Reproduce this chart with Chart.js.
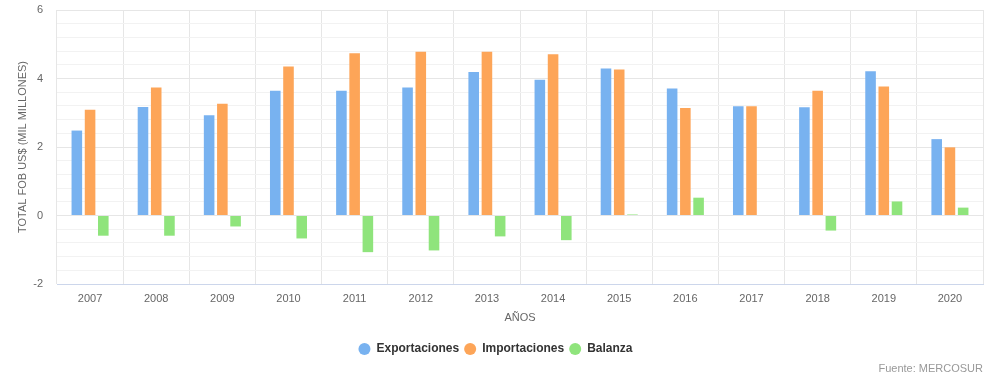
<!DOCTYPE html>
<html>
<head>
<meta charset="utf-8">
<script src="https://cdn.jsdelivr.net/npm/chart.js@4/dist/chart.umd.min.js"></script>
<style>
html,body{margin:0;padding:0;background:#fff;}
#wrap{width:992px;height:376px;position:relative;}
</style>
</head>
<body>
<div id="wrap"><canvas id="c" width="992" height="376"></canvas></div>
<script>
const years = ['2007','2008','2009','2010','2011','2012','2013','2014','2015','2016','2017','2018','2019','2020'];
const exportaciones = [2.48, 3.17, 2.93, 3.64, 3.64, 3.74, 4.19, 3.96, 4.29, 3.71, 3.19, 3.16, 4.21, 2.23];
const importaciones = [3.09, 3.74, 3.26, 4.35, 4.74, 4.78, 4.78, 4.71, 4.26, 3.14, 3.19, 3.64, 3.77, 1.99];
const balanza = [-0.59, -0.59, -0.32, -0.67, -1.07, -1.02, -0.61, -0.72, 0.03, 0.52, 0.0, -0.44, 0.41, 0.23];
const yMin = -2, yMax = 6, yMajorStep = 2, yMinorStep = 0.4;
const seriesNames = ['Exportaciones', 'Importaciones', 'Balanza'];
const seriesColors = ['#78b2f0', '#fda558', '#8fe47c'];

const FONT = "'Liberation Sans', Arial, Helvetica, sans-serif";
function isMajor(v){ const r = v / yMajorStep; return Math.abs(r - Math.round(r)) < 1e-6; }

new Chart(document.getElementById('c'), {
  type: 'bar',
  data: {
    labels: years,
    datasets: [
      { label: seriesNames[0], data: exportaciones, backgroundColor: seriesColors[0] },
      { label: seriesNames[1], data: importaciones, backgroundColor: seriesColors[1] },
      { label: seriesNames[2], data: balanza, backgroundColor: seriesColors[2] }
    ]
  },
  options: {
    responsive: false,
    animation: false,
    devicePixelRatio: 1,
    layout: { padding: { top: 10, right: 9, left: 8, bottom: 0 } },
    datasets: { bar: { categoryPercentage: 0.6, barPercentage: 0.8, borderWidth: 0 } },
    scales: {
      x: {
        grid: { offset: true, color: '#e6e6e6', drawTicks: false },
        border: { color: '#ccd6eb', width: 1 },
        ticks: { color: '#666666', font: { family: FONT, size: 11 }, padding: 8 },
        title: { display: true, text: 'AÑOS', color: '#666666', font: { family: FONT, size: 11 }, padding: { top: 0, bottom: 13 } },
        afterFit: (scale) => { scale.height = 54; }
      },
      y: {
        min: yMin, max: yMax,
        afterBuildTicks: (scale) => {
          const t = [];
          for (let k = 0; k <= Math.round((yMax - yMin) / yMinorStep); k++) {
            t.push({ value: +(yMin + k * yMinorStep).toFixed(6) });
          }
          scale.ticks = t;
        },
        ticks: {
          autoSkip: false,
          color: '#666666',
          font: { family: FONT, size: 11 },
          padding: 0,
          callback: (v) => isMajor(v) ? String(Math.round(v)) : ''
        },
        grid: {
          drawTicks: true,
          tickLength: 14,
          tickColor: 'rgba(0,0,0,0)',
          color: (ctx) => (ctx.tick && isMajor(ctx.tick.value)) ? '#e6e6e6' : '#f2f2f2'
        },
        border: { display: false },
        title: { display: true, text: 'TOTAL FOB US$ (MIL MILLONES)', color: '#666666', font: { family: FONT, size: 11 }, padding: { top: 8, bottom: 0 } },
        afterFit: (scale) => { scale.width = 49; }
      }
    },
    plugins: {
      legend: {
        position: 'bottom',
        labels: {
          usePointStyle: true,
          pointStyle: 'circle',
          boxWidth: 12,
          boxHeight: 8.5,
          padding: 5,
          color: '#333333',
          font: { family: FONT, size: 12, weight: 'bold' }
        }
      },
      subtitle: {
        display: true,
        position: 'bottom',
        align: 'end',
        text: 'Fuente: MERCOSUR',
        color: '#999999',
        font: { family: FONT, size: 11, lineHeight: 1 },
        padding: { top: -2, bottom: 2 }
      },
      tooltip: { enabled: false }
    }
  }
});
</script>
</body>
</html>
